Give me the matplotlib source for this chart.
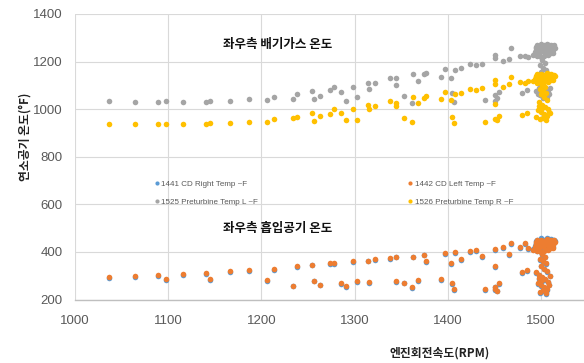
import matplotlib
matplotlib.use("Agg")
import matplotlib.pyplot as plt
from matplotlib.lines import Line2D

plt.rcParams['font.family'] = ['Noto Sans CJK KR', 'DejaVu Sans']

# Engine speed (RPM) for every logged sample
rpm = [1037, 1064, 1089, 1098, 1116, 1140, 1145, 1166, 1187, 1206,
       1213, 1234, 1238, 1254, 1256, 1263, 1273, 1278, 1285, 1291,
       1298, 1303, 1314, 1315, 1322, 1338, 1344, 1344, 1353, 1361,
       1363, 1368, 1374, 1376, 1393, 1397, 1403, 1404, 1407, 1408,
       1414, 1424, 1430, 1437, 1440, 1450, 1450, 1450, 1451, 1453,
       1455, 1459, 1466, 1468, 1477, 1479, 1483, 1485, 1486,
       # steady running near rated speed
       1491, 1493, 1494, 1495, 1496, 1497, 1498, 1499, 1500, 1501,
       1502, 1503, 1504, 1505, 1506, 1507, 1508, 1509, 1510, 1511,
       1512, 1513, 1514, 1515, 1496, 1500, 1503, 1507, 1511, 1499,
       1505, 1502, 1508, 1495, 1510, 1513,
       1501, 1504, 1499, 1502, 1505, 1500, 1503, 1506, 1498, 1501,
       1504, 1507, 1497, 1500, 1509, 1503, 1495, 1506, 1502, 1499,
       1505, 1508, 1501, 1498]

# 1442 CD Left Temp (°F)
cd_left = [296, 297, 302, 287, 306, 313, 285, 318, 323, 282,
           329, 258, 339, 346, 279, 262, 352, 352, 268, 257,
           360, 276, 363, 272, 370, 373, 380, 276, 271, 251,
           380, 282, 388, 362, 286, 394, 353, 268, 245, 398,
           371, 402, 408, 381, 243, 411, 341, 254, 245, 237,
           268, 421, 390, 437, 419, 315, 436, 324, 416,
           410, 420, 435, 441, 448, 428, 415, 445, 452, 438,
           425, 447, 412, 440, 455, 430, 420, 446, 437, 450,
           443, 428, 448, 440, 402, 398, 405, 408, 415, 422,
           432, 446, 452, 430, 426, 417,
           390, 380, 370, 362, 352, 342, 330, 318, 305, 295,
           285, 275, 268, 260, 300, 252, 315, 245, 238, 232,
           228, 262, 280, 290]

# 1441 CD Right Temp (°F)
cd_right = [292, 294, 299, 284, 303, 309, 282, 315, 320, 279,
            326, 255, 336, 343, 276, 259, 349, 349, 265, 254,
            357, 273, 360, 269, 367, 369, 377, 273, 268, 248,
            377, 279, 385, 359, 283, 391, 350, 265, 242, 395,
            368, 399, 405, 378, 240, 408, 338, 251, 242, 234,
            265, 418, 387, 434, 416, 312, 433, 321, 413,
            413, 424, 439, 446, 452, 432, 419, 450, 457, 443,
            429, 451, 416, 445, 459, 434, 424, 450, 441, 455,
            448, 432, 452, 445, 405, 401, 408, 412, 419, 426,
            436, 450, 456, 434, 430, 421,
            387, 377, 367, 359, 349, 339, 327, 315, 302, 292,
            282, 272, 265, 257, 297, 249, 312, 242, 235, 229,
            225, 259, 277, 287]

# 1525 Preturbine Temp L (°F)
pre_l = [1034, 1031, 1031, 1034, 1031, 1031, 1034, 1034, 1041, 1038,
         1050, 1044, 1062, 1075, 1044, 1056, 1082, 1092, 1071, 1035,
         1094, 1050, 1110, 1083, 1111, 1130, 1130, 1103, 1056, 1028,
         1148, 1119, 1148, 1152, 1136, 1170, 1130, 1066, 1029, 1164,
         1173, 1188, 1187, 1191, 1038, 1226, 1216, 1060, 1034, 1045,
         1073, 1202, 1209, 1255, 1223, 1066, 1223, 1080, 1220,
         1228, 1240, 1255, 1262, 1270, 1248, 1235, 1266, 1272, 1258,
         1245, 1268, 1232, 1262, 1274, 1250, 1240, 1266, 1256, 1270,
         1262, 1248, 1268, 1258, 1222, 1218, 1225, 1228, 1235, 1242,
         1250, 1264, 1270, 1248, 1244, 1236,
         1205, 1195, 1185, 1175, 1165, 1155, 1140, 1125, 1110, 1095,
         1082, 1072, 1065, 1058, 1090, 1055, 1078, 1050, 1048, 1060,
         1052, 1065, 1075, 1088]

# 1526 Preturbine Temp R (°F)
pre_r = [939, 939, 939, 939, 939, 939, 942, 943, 947, 944,
         957, 963, 968, 985, 949, 972, 981, 1000, 985, 954,
         999, 953, 1017, 1000, 1012, 1035, 1028, 1012, 962, 946,
         1052, 1028, 1048, 1056, 1044, 1073, 1038, 966, 943, 1063,
         1070, 1086, 1080, 1089, 947, 1122, 1105, 1021, 960, 954,
         971, 1094, 1107, 1136, 1114, 975, 1111, 985, 1118,
         1118, 1125, 1135, 1140, 1146, 1130, 1122, 1142, 1148, 1137,
         1128, 1144, 1120, 1139, 1150, 1132, 1126, 1143, 1136, 1147,
         1140, 1130, 1145, 1138, 1112, 1108, 1115, 1116, 1122, 1127,
         1133, 1142, 1148, 1131, 1129, 1123,
         1100, 1092, 1085, 1078, 1070, 1062, 1052, 1040, 1030, 1018,
         1008, 1000, 995, 988, 985, 978, 968, 972, 962, 958,
         955, 990, 1005, 1012]

series_labels = ["1441 CD Right Temp ~F", "1442 CD Left Temp ~F",
                 "1525 Preturbine Temp L ~F", "1526 Preturbine Temp R ~F"]
series_colors = ["#5B9BD5", "#ED7D31", "#A5A5A5", "#FFC000"]
x_ticks = [1000, 1100, 1200, 1300, 1400, 1500]
y_ticks = [200, 400, 600, 800, 1000, 1200, 1400]

W, H = 584, 363
fig = plt.figure(figsize=(W / 100, H / 100), dpi=100)
ax = fig.add_axes([75 / W, 1 - 299.5 / H, (W - 75) / W, (299.5 - 14) / H])

for vals, col in zip([cd_right, cd_left, pre_l, pre_r], series_colors):
    ax.scatter(rpm, vals, s=16, color=col, linewidths=0, zorder=3)

ax.set_xlim(1000, 1546)
ax.set_ylim(200, 1400)
ax.set_xticks(x_ticks)
ax.set_yticks(y_ticks)
ax.grid(True, color="#D9D9D9", linewidth=0.8, zorder=0)
for side in ["top", "right", "left"]:
    ax.spines[side].set_visible(False)
ax.spines["bottom"].set_color("#BFBFBF")
ax.spines["bottom"].set_linewidth(1.0)
ax.tick_params(length=0, labelsize=9.5, labelcolor="#595959")
ax.tick_params(axis="x", pad=11)
ax.tick_params(axis="y", pad=9)
for lab in ax.get_xticklabels() + ax.get_yticklabels():
    lab.set_family(["Liberation Sans", "DejaVu Sans"])

ax.text(1217, 1270, "좌우측 배기가스 온도", ha="center", va="center",
        fontsize=9, fontweight="bold", color="#111111")
ax.text(1217, 500, "좌우측 흡입공기 온도", ha="center", va="center",
        fontsize=9, fontweight="bold", color="#111111")

fig.text(440 / W, 1 - 353 / H, "엔진회전속도(RPM)", ha="center", va="center",
         fontsize=8.5, fontweight="bold", color="#222222")
fig.text(25 / W, 1 - 137 / H, "연소공기 온도(°F)", ha="center", va="center",
         rotation=90, fontsize=8.5, fontweight="bold", color="#222222")

handles = [Line2D([], [], linestyle="none", marker="o", markersize=3,
                  markerfacecolor=c, markeredgewidth=0) for c in series_colors]
order = [0, 2, 1, 3]
leg = ax.legend([handles[i] for i in order], [series_labels[i] for i in order],
                ncol=2, loc="upper left",
                bbox_to_anchor=(155 / W, 1 - 180 / H), bbox_transform=fig.transFigure,
                frameon=False, handlelength=0.5, handletextpad=0.3,
                columnspacing=18.6, labelspacing=1.35, borderpad=0, borderaxespad=0,
                prop={"family": ["Liberation Sans", "DejaVu Sans"], "size": 5.8})
for t in leg.get_texts():
    t.set_color("#595959")

fig.savefig("out.png", dpi=100)
